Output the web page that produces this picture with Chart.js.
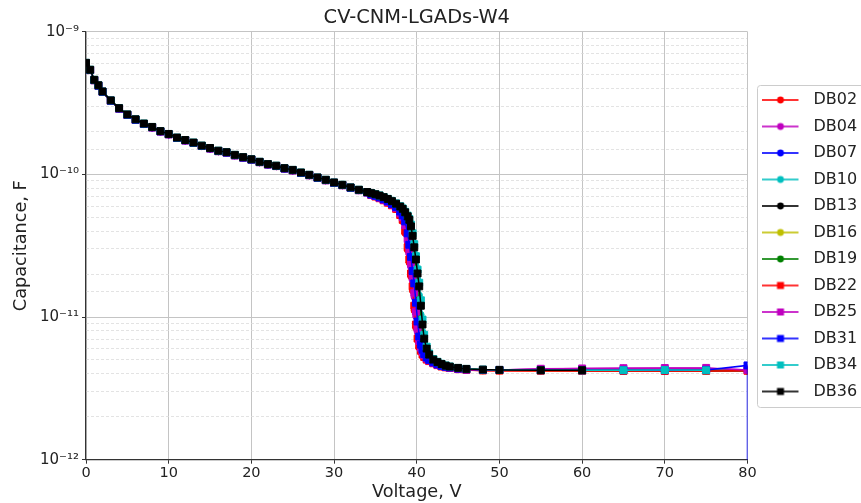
<!DOCTYPE html>
<html><head><meta charset="utf-8">
<script src="https://cdn.jsdelivr.net/npm/chart.js@4"></script>
<style>html,body{margin:0;padding:0;background:#fff}</style>
</head><body>
<canvas id="c" width="861" height="503"></canvas>
<script>
// Bias voltage (V)
const voltages = [0,0.5,1,1.5,2,3,4,5,6,7,8,9,10,11,12,13,14,15,16,17,18,19,20,21,22,23,24,25,26,27,28,29,30,31,32,33,34,
  34.5,35,35.5,36,36.5,37,37.5,38,38.3,38.6,38.9,39.1,39.3,39.5,39.7,39.9,40.1,40.3,40.5,40.7,40.9,41.2,41.5,42,
  42.5,43,43.5,44,45,46,48,50,55,60,65,70,75,80];
const voltagesDB31 = [0,0.5,1,1.5,2,3,4,5,6,7,8,9,10,11,12,13,14,15,16,17,18,19,20,21,22,23,24,25,26,27,28,29,30,31,32,33,34,
  34.5,35,35.5,36,36.5,37,37.5,38,38.3,38.6,38.9,39.1,39.3,39.5,39.7,39.9,40.1,40.3,40.5,40.7,40.9,41.2,41.5,42,
  42.5,43,43.5,44,45,46,48,50,55,60,65,70,75,80,80];

// Capacitance in pF
const DB02 = [598,535,455,416,377,326,288,260,240,224,212,198.5,189.5,179,172,165,157,151,144.5,141,135.5,130.5,126,121,116.5,113.5,109,106,101.5,98,94,90.5,86.7,83.5,80,77.1,74.3,
  71.4,69.7,67.8,65.6,63.1,60.4,56.8,51.4,46.8,38.6,29.4,24.0,19.2,15.3,11.1,8.4,6.9,6.1,5.7,5.40,5.2,5.0,4.88,4.72,
  4.58,4.49,4.43,4.38,4.30,4.25,4.21,4.20,4.19,4.18,4.18,4.18,4.18,4.18];
const DB04 = [598,535,455,416,377,326,288,260,240,224,212,198.5,189.5,179,172,165,157,151,144.5,141,135.5,130.5,126,121,116.5,113.5,109,106,101.5,98,94,90.5,86.7,83.5,80,77.1,74.3,
  71.9,70.3,68.3,66.2,63.8,61.1,57.9,52.8,49.1,42.6,33.4,27.4,22.3,17.9,13.8,10.1,7.8,6.6,6.0,5.6,5.33,5.08,4.93,4.76,
  4.62,4.52,4.45,4.40,4.32,4.28,4.25,4.26,4.33,4.35,4.37,4.38,4.38,4.25];
const DB07 = [598,535,455,416,377,326,288,260,240,224,212,198.5,189.5,179,172,165,157,151,144.5,141,135.5,130.5,126,121,116.5,113.5,109,106,101.5,98,94,90.5,86.7,83.5,80,77.1,74.3,
  72.2,70.7,68.8,66.7,64.4,61.7,58.8,54.2,50.8,45.6,37.1,30.8,25.3,20.2,16.4,12.0,8.86,7.06,6.3,5.8,5.45,5.18,4.99,4.80,
  4.65,4.54,4.47,4.42,4.34,4.29,4.25,4.24,4.23,4.23,4.23,4.23,4.23,4.23];
const DB10 = [601,538,457,418,379,328,289,261,241,225.5,213.5,200,191,180,173,166,158,152,145.5,142,136,131,126.8,121.8,117.3,114.3,109.8,106.8,102.3,98.7,94.5,91,87.2,84,80.5,77.5,74.7,
  73.5,72.2,70.7,68.8,66.7,64.4,61.7,58.8,56.3,53.1,49.4,45.6,40.2,34.0,28.0,22.8,18.3,14.2,10.4,7.9,6.7,5.8,5.35,4.99,
  4.80,4.66,4.55,4.48,4.39,4.32,4.27,4.25,4.23,4.22,4.22,4.22,4.22,4.22];
const DB13 = [601,538,457,418,379,328,289,261,241,225.5,213.5,200,191,180,173,166,158,152,145.5,142,136,131,126.8,121.8,117.3,114.3,109.8,106.8,102.3,98.7,94.5,91,87.2,84,80.5,77.5,74.7,
  73.4,72.1,70.6,68.6,66.5,64.1,61.4,58.4,55.8,52.5,48.7,44.4,38.6,32.4,26.7,21.5,17.4,13.1,9.6,7.5,6.5,5.7,5.3,4.97,
  4.79,4.65,4.54,4.47,4.38,4.32,4.27,4.25,4.23,4.22,4.21,4.21,4.21,4.21];
const DB16 = [601,538,457,418,379,328,289,261,241,225.5,213.5,200,191,180,173,166,158,152,145.5,142,136,131,126.8,121.8,117.3,114.3,109.8,106.8,102.3,98.7,94.5,91,87.2,84,80.5,77.5,74.7,
  72.8,71.3,69.6,67.6,65.4,62.8,60.1,56.3,53.1,49.4,43.2,37.1,30.8,25.3,20.2,16.4,12.0,8.86,7.06,6.3,5.8,5.35,5.1,4.86,
  4.70,4.58,4.49,4.43,4.35,4.30,4.26,4.24,4.22,4.22,4.22,4.22,4.22,4.22];
const DB19 = [601,538,457,418,379,328,289,261,241,225.5,213.5,200,191,180,173,166,158,152,145.5,142,136,131,126.8,121.8,117.3,114.3,109.8,106.8,102.3,98.7,94.5,91,87.2,84,80.5,77.5,74.7,
  73.0,71.6,69.9,68.0,65.8,63.3,60.7,57.3,54.2,50.8,45.6,40.2,34.0,28.0,22.8,18.3,14.2,10.4,7.9,6.7,6.01,5.45,5.2,4.91,
  4.75,4.62,4.52,4.45,4.36,4.31,4.27,4.25,4.24,4.23,4.23,4.23,4.23,4.23];
const DB22 = [601,538,457,418,379,328,289,261,241,225.5,213.5,200,191,180,173,166,158,152,145.5,142,136,131,126.8,121.8,117.3,114.3,109.8,106.8,102.3,98.7,94.5,91,87.2,84,80.5,77.5,74.7,
  71.6,69.9,68.0,65.8,63.3,60.7,57.3,51.9,48.0,40.2,30.8,25.3,20.2,16.4,12.0,8.86,7.06,6.3,5.8,5.45,5.25,5.03,4.91,4.74,
  4.60,4.50,4.44,4.39,4.31,4.26,4.22,4.21,4.20,4.19,4.19,4.19,4.19,4.20];
const DB25 = [601,538,457,418,379,328,289,261,241,225.5,213.5,200,191,180,173,166,158,152,145.5,142,136,131,126.8,121.8,117.3,114.3,109.8,106.8,102.3,98.7,94.5,91,87.2,84,80.5,77.5,74.7,
  72.0,70.5,68.5,66.4,64.1,61.4,58.3,53.4,50.0,44.0,35.3,29.0,23.6,19.0,14.8,10.9,8.3,6.8,6.1,5.7,5.4,5.12,4.96,4.78,
  4.63,4.53,4.46,4.41,4.33,4.28,4.25,4.26,4.34,4.36,4.38,4.39,4.40,4.26];
const DB31 = [601,538,457,418,379,328,289,261,241,225.5,213.5,200,191,180,173,166,158,152,145.5,142,136,131,126.8,121.8,117.3,114.3,109.8,106.8,102.3,98.7,94.5,91,87.2,84,80.5,77.5,74.7,
  72.3,70.9,69.0,66.9,64.7,62.0,59.2,54.9,51.6,46.8,38.6,32.1,26.4,21.0,17.2,12.6,9.3,7.3,6.4,5.9,5.5,5.2,5.01,4.81,
  4.66,4.55,4.48,4.43,4.35,4.30,4.26,4.25,4.24,4.23,4.24,4.24,4.26,4.58,0.1];
const DB34 = [605,541,460,421,381,330,291,263,243,227,215,201,192,181,174,167,159,153,146.5,143,137,132,127.5,122.5,118,115,110.5,107.5,103,99.3,95.1,91.6,87.7,84.5,81,78,75.2,
  73.9,72.6,71.2,69.4,67.4,65.2,62.6,59.8,57.7,54.7,51.4,48.7,44.4,38.6,32.4,26.7,21.5,17.4,13.1,9.6,7.5,6.2,5.55,5.08,
  4.86,4.70,4.58,4.50,4.40,4.33,4.28,4.26,4.24,4.23,4.24,4.25,4.23,null];
const DB36 = [605,541,460,421,381,330,291,263,243,227,215,201,192,181,174,167,159,153,146.5,143,137,132,127.5,122.5,118,115,110.5,107.5,103,99.3,95.1,91.6,87.7,84.5,81,78,75.2,
  73.8,72.5,71,69.2,67.2,64.9,62.3,59.5,57.3,54.2,50.8,48.0,43.2,37.1,30.8,25.3,20.2,16.4,12.0,8.86,7.06,6.01,5.45,5.03,
  4.83,4.68,4.56,4.49,4.40,4.33,4.28,4.26,4.24,4.24,null,null,null,null];

const seriesNames = ['DB02','DB04','DB07','DB10','DB13','DB16','DB19','DB22','DB25','DB31','DB34','DB36'];
const seriesValues = [DB02,DB04,DB07,DB10,DB13,DB16,DB19,DB22,DB25,DB31,DB34,DB36];
const seriesVolts = [voltages,voltages,voltages,voltages,voltages,voltages,voltages,voltages,voltages,voltagesDB31,voltages,voltages];
const seriesColors = ['#ff0000','#bf00bf','#0000ff','#00bfbf','#000000','#bfbf00','#008000','#ff0000','#bf00bf','#0000ff','#00bfbf','#000000'];
const seriesMarkers = ['circle','circle','circle','circle','circle','circle','circle','rect','rect','rect','rect','rect'];
const yTickMin = 1e-12, yTickMax = 1e-9;
const xTickMin = 0, xTickMax = 80, xTickStep = 10;

const F = "'DejaVu Sans'";
const SUP = {'-':'\u207B','0':'\u2070','1':'\u00B9','2':'\u00B2','3':'\u00B3','4':'\u2074','5':'\u2075','6':'\u2076','7':'\u2077','8':'\u2078','9':'\u2079'};
function isDecade(v){ if(!(v>0)) return false; const e=Math.round(Math.log10(v)); return Math.abs(v/Math.pow(10,e)-1)<1e-6; }
function supStr(n){ return String(n).split('').map(ch=>SUP[ch]).join(''); }

function legendIcon(color, shape){
  const c=document.createElement('canvas'); c.width=43; c.height=14;
  const g=c.getContext('2d');
  g.globalAlpha=0.8; g.strokeStyle=color; g.lineWidth=2;
  g.beginPath(); g.moveTo(0,7); g.lineTo(36,7); g.stroke();
  g.globalAlpha=1; g.fillStyle=color;
  if(shape==='circle'){ g.beginPath(); g.arc(18,7,3.4,0,Math.PI*2); g.fill(); }
  else { g.fillRect(14.5,3.5,7,7); }
  return c;
}
const icons = seriesNames.map((n,i)=>legendIcon(seriesColors[i], seriesMarkers[i]));

const datasets = seriesNames.map((name,i)=>({
  label:name,
  data: seriesVolts[i].map((v,j)=>({x:v, y: seriesValues[i][j]==null ? null : seriesValues[i][j]*1e-12})),
  borderColor: seriesColors[i],
  backgroundColor: seriesColors[i],
  pointBackgroundColor: seriesColors[i],
  pointBorderColor: seriesColors[i],
  borderWidth: 1.5,
  pointBorderWidth: 1,
  pointStyle: seriesMarkers[i],
  pointRadius: (ctx)=> (ctx.raw && ctx.raw.y!=null && ctx.raw.y < 1e-12) ? 0 : (seriesMarkers[i]==='rect' ? 4.9 : 3.2),
  tension: 0,
  fill: false,
  order: seriesNames.length - i
}));

const legendFrame = {
  id:'legendFrame',
  afterDraw(chart){
    const lg=chart.legend; if(!lg || !lg.legendHitBoxes || !lg.legendHitBoxes.length) return;
    const hb=lg.legendHitBoxes, first=hb[0], last=hb[hb.length-1];
    const ctx=chart.ctx;
    const x=Math.round(first.left-5)+0.5, y=Math.round(first.top-7)+0.5;
    const h=Math.round(last.top+last.height+8)-Math.round(first.top-7);
    ctx.save(); ctx.strokeStyle='#cccccc'; ctx.lineWidth=1;
    ctx.beginPath(); if(ctx.roundRect) ctx.roundRect(x,y,200,h,3); else ctx.rect(x,y,200,h); ctx.stroke();
    ctx.restore();
  }
};

new Chart(document.getElementById('c'), {
  type:'line',
  data:{datasets},
  plugins:[legendFrame],
  options:{
    responsive:false, animation:false, devicePixelRatio:1, events:[],
    layout:{padding:{left:0,right:-6.15,top:0,bottom:0}},
    plugins:{
      title:{display:true,text:'CV-CNM-LGADs-W4',fullSize:false,color:'#222',
        font:{family:F,size:19.4,weight:'normal'},padding:{top:6.5,bottom:1.9}},
      legend:{position:'right',fullSize:false,align:'center',
        labels:{usePointStyle:true,pointStyleWidth:43,padding:10.5,color:'#222',font:{family:F,size:16},
          generateLabels:(chart)=>Chart.defaults.plugins.legend.labels.generateLabels(chart).map(l=>Object.assign(l,{pointStyle:icons[l.datasetIndex]})),
          sort:(a,b)=>a.datasetIndex-b.datasetIndex}},
      tooltip:{enabled:false}
    },
    scales:{
      x:{type:'linear',min:xTickMin,max:xTickMax,
        afterFit:(s)=>{s.height=43.3;},
        ticks:{stepSize:xTickStep,color:'#222',font:{family:F,size:14.5},padding:0.5,maxRotation:0,autoSkip:false,
          callback:(v)=>String(v)},
        grid:{color:'#c4c4c4',lineWidth:1,tickLength:4,tickColor:'#333'},
        border:{color:'#333',width:1.2},
        title:{display:true,text:'Voltage, V',color:'#222',font:{family:F,size:17.7},padding:{top:0,bottom:0.4}}},
      y:{type:'logarithmic',min:yTickMin,max:yTickMax,
        afterFit:(s)=>{s.width=86;},
        ticks:{autoSkip:false,color:'#222',font:{family:F,size:15},padding:3,
          callback:(v)=> isDecade(v) ? '10'+supStr(Math.round(Math.log10(v))) : ''},
        grid:{color:(c)=> (c.tick && isDecade(c.tick.value)) ? '#c4c4c4' : 'rgba(0,0,0,0)',
          tickColor:(c)=> (c.tick && isDecade(c.tick.value)) ? '#333' : 'rgba(0,0,0,0)',
          lineWidth:1,tickLength:4},
        border:{color:'#333',width:1.2},
        title:{display:true,text:'Capacitance, F',color:'#222',font:{family:F,size:17.7},padding:{top:10.4,bottom:0}}},
      y2:{type:'logarithmic',position:'right',min:yTickMin,max:yTickMax,
        afterFit:(s)=>{s.width=4.5;},
        ticks:{display:false,autoSkip:false},
        grid:{color:(c)=> (c.tick && isDecade(c.tick.value)) ? 'rgba(0,0,0,0)' : '#dcdcdc',lineWidth:0.8,drawTicks:false},
        border:{display:false,dash:[3,2]}}
    }
  }
});
</script>
</body></html>
